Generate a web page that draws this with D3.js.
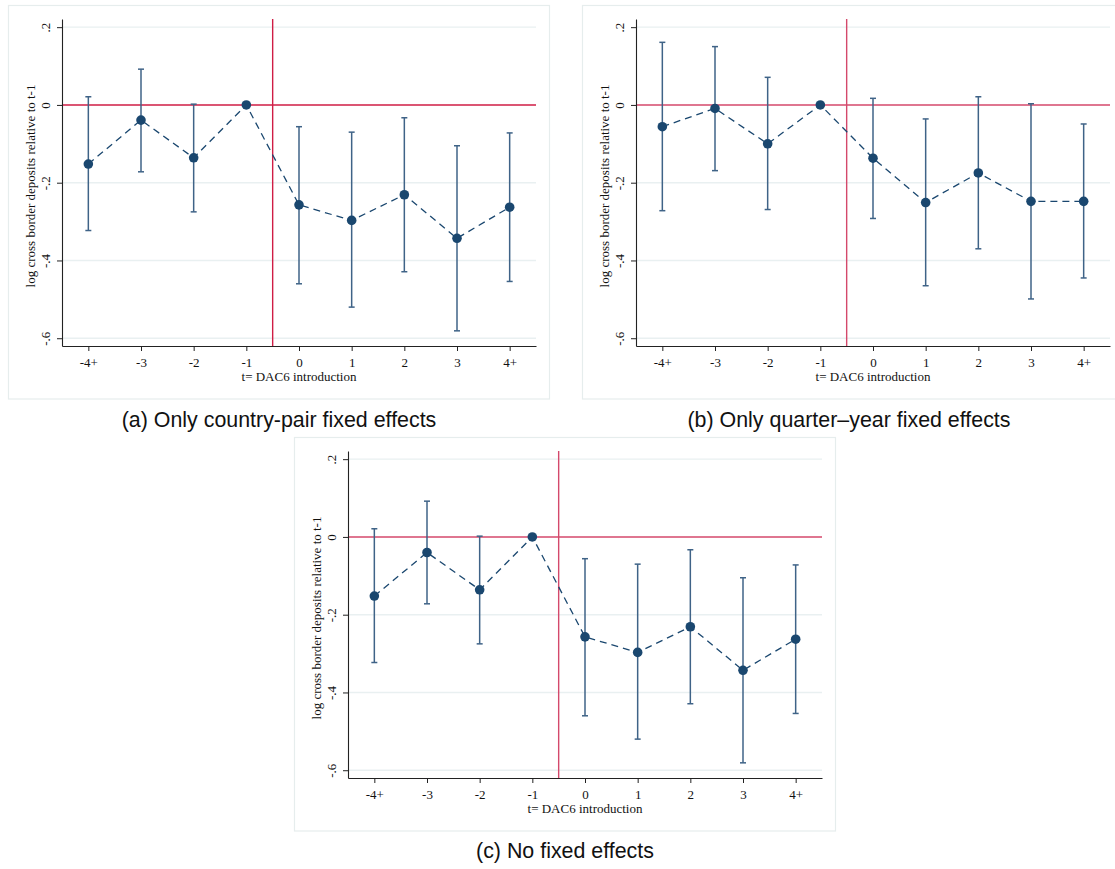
<!DOCTYPE html>
<html>
<head>
<meta charset="utf-8">
<script src="https://cdn.jsdelivr.net/npm/d3@7"></script>
<style>
  html, body { margin: 0; padding: 0; background: #fff; }
  svg { display: block; }
</style>
</head>
<body>
<script>
// ---- data ----
const periodLabels = ["-4+", "-3", "-2", "-1", "0", "1", "2", "3", "4+"];
const yTickValues = [-0.6, -0.4, -0.2, 0, 0.2];
const yTickLabels = ["-.6", "-.4", "-.2", "0", ".2"];

// (a) Only country-pair fixed effects
const coefPair = [-0.152, -0.039, -0.136, 0, -0.257, -0.297, -0.231, -0.343, -0.263];
const loPair   = [-0.323, -0.172, -0.275, null, -0.460, -0.520, -0.429, -0.581, -0.454];
const hiPair   = [0.021, 0.092, 0.002, null, -0.056, -0.070, -0.033, -0.105, -0.072];

// (b) Only quarter-year fixed effects
const coefQuarter = [-0.056, -0.009, -0.100, 0, -0.137, -0.251, -0.175, -0.248, -0.248];
const loQuarter   = [-0.272, -0.169, -0.269, null, -0.292, -0.465, -0.370, -0.499, -0.445];
const hiQuarter   = [0.161, 0.150, 0.071, null, 0.017, -0.036, 0.021, 0.003, -0.049];

// (c) No fixed effects
const coefNone = [-0.152, -0.040, -0.136, 0, -0.257, -0.297, -0.231, -0.343, -0.263];
const loNone   = [-0.323, -0.172, -0.275, null, -0.460, -0.520, -0.429, -0.581, -0.454];
const hiNone   = [0.021, 0.092, 0.002, null, -0.056, -0.070, -0.033, -0.105, -0.072];

const captions = ["(a) Only country-pair fixed effects", "(b) Only quarter\u2013year fixed effects", "(c) No fixed effects"];
const xTitle = "t= DAC6 introduction";
const yTitle = "log cross border deposits relative to t-1";

// ---- drawing ----
const W = 1115, H = 869;
const svg = d3.select("body").append("svg").attr("width", W).attr("height", H);
svg.append("rect").attr("width", W).attr("height", H).attr("fill", "#fff");

const NAVY = "#1a476f", BAR = "#3f6387", GRID = "#e9f0f1", FRAME = "#e6eded";
const SERIF = "'Liberation Serif', 'Times New Roman', serif";
const SANS = "'Liberation Sans', Arial, Helvetica, sans-serif";

const panels = [
  { ox: 8,   oy: 5,   coef: coefPair,    lo: loPair,    hi: hiPair,    cap: captions[0], capX: 279, capY: 427, red: "#cf1d45" },
  { ox: 582, oy: 5,   coef: coefQuarter, lo: loQuarter, hi: hiQuarter, cap: captions[1], capX: 849, capY: 427, red: "#d4496b" },
  { ox: 294, oy: 437, coef: coefNone,    lo: loNone,    hi: hiNone,    cap: captions[2], capX: 565, capY: 858, red: "#d4496b" }
];

panels.forEach(p => {
  const g = svg.append("g");
  // frame
  g.append("rect").attr("x", p.ox + 0.5).attr("y", p.oy + 0.5)
    .attr("width", 541).attr("height", 393.5)
    .attr("fill", "#fff").attr("stroke", FRAME).attr("stroke-width", 1.2);

  const x = d3.scaleLinear().domain([-0.5, 8.5]).range([p.ox + 54, p.ox + 528]);
  const y = d3.scaleLinear().domain([-0.62, 0.221]).range([p.oy + 341, p.oy + 14]);
  const idx = d3.range(periodLabels.length);

  // gridlines
  g.selectAll(".grid").data(yTickValues.filter(v => v !== 0)).join("line")
    .attr("x1", x.range()[0]).attr("x2", x.range()[1])
    .attr("y1", d => y(d)).attr("y2", d => y(d))
    .attr("stroke", GRID).attr("stroke-width", 1.4);

  // reference lines
  g.append("line").attr("x1", x.range()[0]).attr("x2", x.range()[1])
    .attr("y1", y(0)).attr("y2", y(0))
    .attr("stroke", p.red).attr("stroke-width", 1.4);
  g.append("line").attr("x1", x(3.5)).attr("x2", x(3.5))
    .attr("y1", y.range()[1]).attr("y2", y.range()[0])
    .attr("stroke", p.red).attr("stroke-width", 1.4);

  // axes
  const yAxis = d3.axisLeft(y).tickValues(yTickValues)
    .tickFormat((d, i) => yTickLabels[i]).tickSize(5).tickSizeOuter(0);
  const ya = g.append("g").attr("transform", `translate(${x.range()[0]},0)`).call(yAxis);
  ya.select(".domain").attr("stroke", "#222").attr("stroke-width", 1.1);
  ya.selectAll(".tick line").attr("stroke", "#222");
  ya.selectAll(".tick text")
    .attr("x", null).attr("dy", null)
    .attr("transform", "translate(-12,0) rotate(-90)")
    .attr("text-anchor", "middle")
    .attr("font-family", SERIF).attr("font-size", 13).attr("fill", "#111");

  const xAxis = d3.axisBottom(x).tickValues(idx)
    .tickFormat(i => periodLabels[i]).tickSize(5).tickSizeOuter(0);
  const xa = g.append("g").attr("transform", `translate(0,${y.range()[0]})`).call(xAxis);
  xa.select(".domain").attr("stroke", "#222").attr("stroke-width", 1.1);
  xa.selectAll(".tick line").attr("stroke", "#222");
  xa.selectAll(".tick text").attr("y", 21).attr("dy", null)
    .attr("font-family", SERIF).attr("font-size", 13).attr("fill", "#111");

  // axis titles
  g.append("text").attr("x", (x.range()[0] + x.range()[1]) / 2).attr("y", p.oy + 376)
    .attr("text-anchor", "middle").attr("font-family", SERIF).attr("font-size", 13)
    .attr("fill", "#111").text(xTitle);
  g.append("text")
    .attr("transform", `translate(${p.ox + 27},${p.oy + 181}) rotate(-90)`)
    .attr("text-anchor", "middle").attr("font-family", SERIF).attr("font-size", 13)
    .attr("fill", "#111").text(yTitle);

  // error bars
  const ci = idx.filter(i => p.lo[i] !== null);
  const cw = 3;
  g.selectAll(".bar").data(ci).join("line")
    .attr("x1", i => x(i)).attr("x2", i => x(i))
    .attr("y1", i => y(p.hi[i])).attr("y2", i => y(p.lo[i]))
    .attr("stroke", BAR).attr("stroke-width", 1.5);
  g.selectAll(".capTop").data(ci).join("line")
    .attr("x1", i => x(i) - cw).attr("x2", i => x(i) + cw)
    .attr("y1", i => y(p.hi[i])).attr("y2", i => y(p.hi[i]))
    .attr("stroke", BAR).attr("stroke-width", 1.5);
  g.selectAll(".capBot").data(ci).join("line")
    .attr("x1", i => x(i) - cw).attr("x2", i => x(i) + cw)
    .attr("y1", i => y(p.lo[i])).attr("y2", i => y(p.lo[i]))
    .attr("stroke", BAR).attr("stroke-width", 1.5);

  // dashed connecting line
  const line = d3.line().x(i => x(i)).y(i => y(p.coef[i]));
  g.append("path").datum(idx).attr("d", line)
    .attr("fill", "none").attr("stroke", NAVY).attr("stroke-width", 1.3)
    .attr("stroke-dasharray", "7,5");

  // points
  g.selectAll(".pt").data(idx).join("circle")
    .attr("cx", i => x(i)).attr("cy", i => y(p.coef[i])).attr("r", 4.8)
    .attr("fill", NAVY);

  // caption
  svg.append("text").attr("x", p.capX).attr("y", p.capY)
    .attr("text-anchor", "middle").attr("font-family", SANS).attr("font-size", 21.4)
    .attr("fill", "#111").text(p.cap);
});
</script>
</body>
</html>
